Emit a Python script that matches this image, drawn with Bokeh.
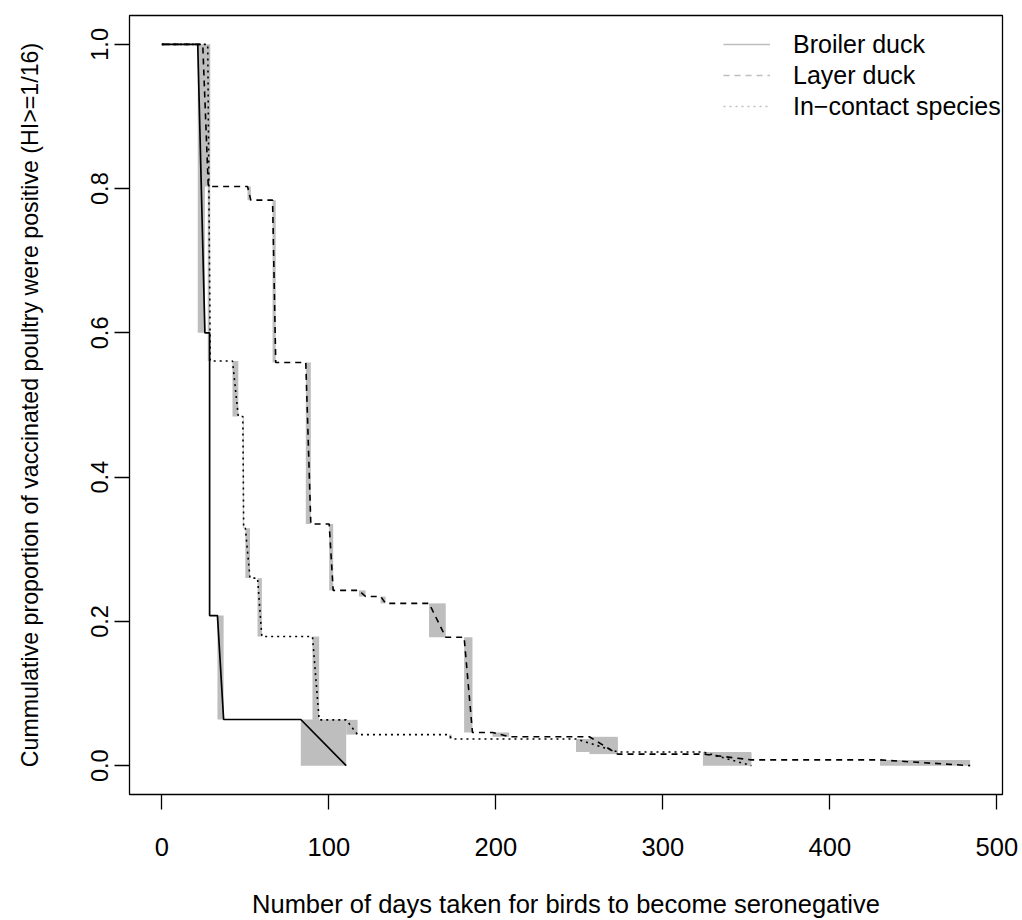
from bokeh.plotting import figure
from bokeh.models import Range1d, FixedTicker, PrintfTickFormatter, Legend, LegendItem, ColumnDataSource
from bokeh.embed import file_html
from bokeh.resources import INLINE

# ---- data (Turnbull-type estimates): interval left/right ends and survival after each interval ----
broiler_L = [21.5, 28.6, 33.3, 83.2]
broiler_R = [25.8, 28.6, 37.0, 110.4]
broiler_S = [0.600, 0.208, 0.064, 0.0]

layer_L = [24.5, 51.3, 66.3, 86.2, 100.2, 118.0, 131.0, 160.0, 181.0, 198.0, 256.0, 324.0, 430.0]
layer_R = [27.8, 53.3, 68.2, 89.2, 102.6, 122.0, 134.0, 170.0, 186.0, 208.0, 273.0, 353.0, 484.0]
layer_S = [0.803, 0.784, 0.559, 0.335, 0.243, 0.2345, 0.225, 0.178, 0.046, 0.040, 0.016, 0.008, 0.0]

contact_L = [27.5, 42.3, 48.5, 50.0, 57.3, 90.2, 110.4, 172.0, 248.0, 324.0]
contact_R = [29.0, 45.8, 49.0, 52.8, 59.9, 94.2, 117.2, 173.5, 273.0, 353.0]
contact_S = [0.561, 0.484, 0.329, 0.260, 0.179, 0.0635, 0.043, 0.037, 0.019, 0.0]

x_ticks = [0, 100, 200, 300, 400, 500]
y_ticks = [0.0, 0.2, 0.4, 0.6, 0.8, 1.0]
series_names = ["Broiler duck", "Layer duck", "In\u2212contact species"]

FONT = "Liberation Sans"
GRAY = "#BEBEBE"


def curve(L, R, S):
    xs, ys = [0.0], [1.0]
    prev = 1.0
    for l, r, s in zip(L, R, S):
        xs += [l, r]
        ys += [prev, s]
        prev = s
    return xs, ys


def boxes(L, R, S):
    tops, prev = [], 1.0
    for s in S:
        tops.append(prev)
        prev = s
    return dict(left=L, right=R, bottom=S, top=tops)


p = figure(width=1022, height=920, output_backend="svg", toolbar_location=None,
           x_range=Range1d(-19.36, 503.36), y_range=Range1d(-0.04, 1.04),
           min_border_left=129, min_border_right=20, min_border_top=15, min_border_bottom=123)
p.grid.visible = False
p.outline_line_color = "black"
p.outline_line_width = 1.3
p.background_fill_color = "white"
p.border_fill_color = "white"

data_sets = [(broiler_L, broiler_R, broiler_S), (layer_L, layer_R, layer_S), (contact_L, contact_R, contact_S)]
for L, R, S in data_sets:
    p.quad(source=ColumnDataSource(boxes(L, R, S)), left="left", right="right", bottom="bottom", top="top",
           fill_color=GRAY, line_color=None)

styles = [("solid", 1.7), ("6 5", 1.6), ("2 4", 1.6)]
for (L, R, S), (dash, w) in zip(data_sets, styles):
    xs, ys = curve(L, R, S)
    p.line(xs, ys, line_color="black", line_width=w, line_dash=dash)

# legend (gray line samples, as in the original); dummy renderers sit outside the visible range
items = []
for name, (dash, w) in zip(series_names, styles):
    r = p.line([-200, -150], [-5, -5], line_color=GRAY, line_width=1.4, line_dash=dash)
    items.append(LegendItem(label=name, renderers=[r]))
legend = Legend(items=items, location=(594, 673), border_line_color=None, background_fill_alpha=0,
                padding=0, margin=0, spacing=1, glyph_width=47, glyph_height=30, label_height=30,
                label_standoff=23, label_text_font=FONT, label_text_font_size="25px", label_text_color="black")
p.add_layout(legend, "center")

for ax in (p.xaxis[0], p.yaxis[0]):
    ax.axis_line_color = None
    ax.major_tick_line_color = "black"
    ax.major_tick_line_width = 1.3
    ax.major_tick_out = 15
    ax.major_tick_in = 0
    ax.minor_tick_line_color = None
    ax.major_label_text_font = FONT
    ax.major_label_text_color = "black"
    ax.axis_label_text_font = FONT
    ax.axis_label_text_font_style = "normal"
    ax.axis_label_text_color = "black"

p.xaxis.major_label_text_font_size = "25.5px"
p.xaxis.axis_label_text_font_size = "25.5px"
p.yaxis.major_label_text_font_size = "23.5px"
p.yaxis.axis_label_text_font_size = "23.2px"

p.xaxis.ticker = FixedTicker(ticks=x_ticks)
p.yaxis.ticker = FixedTicker(ticks=y_ticks)
p.yaxis.formatter = PrintfTickFormatter(format="%.1f")
p.yaxis.major_label_orientation = "vertical"
p.xaxis.major_label_standoff = 28
p.yaxis.major_label_standoff = 6
p.xaxis.axis_label = "Number of days taken for birds to become seronegative"
p.yaxis.axis_label = "Cummulative proportion of vaccinated poultry were positive (HI>=1/16)"
p.xaxis.axis_label_standoff = 31
p.yaxis.axis_label_standoff = 46

open("out.html", "w").write(file_html(p, INLINE))
